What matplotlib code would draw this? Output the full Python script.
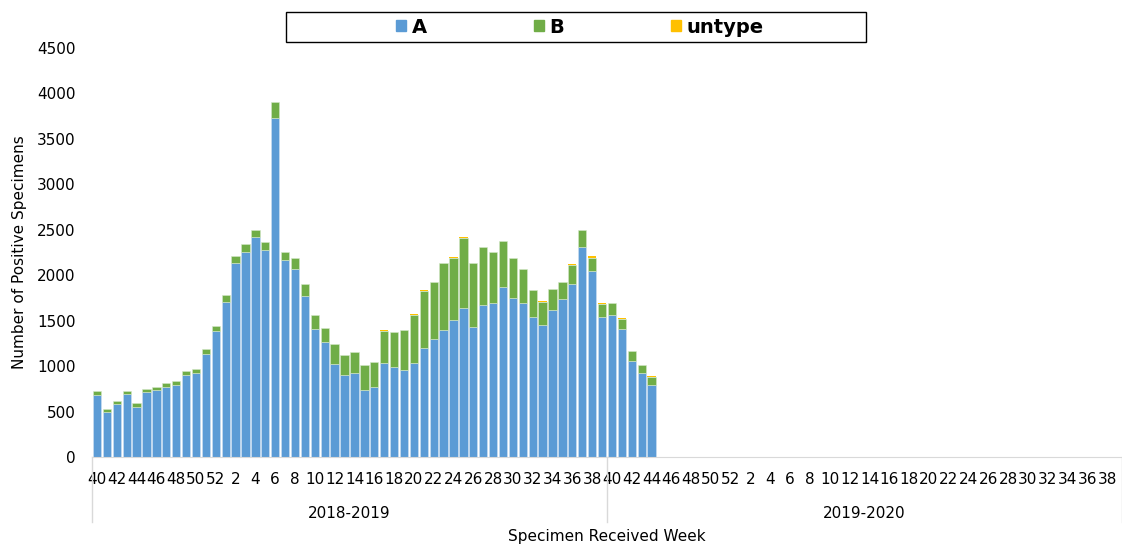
import numpy as np
import matplotlib
matplotlib.use("Agg")
import matplotlib.pyplot as plt
from matplotlib.patches import Rectangle, Patch

# weeks per season: 40..52 then 1..39
weeks = list(range(40, 53)) + list(range(1, 40))
seasons = ["2018-2019", "2019-2020"]

a_vals = [680, 495, 585, 695, 555, 710, 733, 766, 788, 905,
          920, 1132, 1385, 1700, 2135, 2256, 2421, 2282, 3733, 2172,
          2068, 1775, 1412, 1260, 1022, 903, 920, 742, 768, 1030,
          986, 953, 1033, 1201, 1293, 1392, 1502, 1637, 1425, 1670,
          1696, 1865, 1751, 1689, 1535, 1447, 1615, 1736, 1908, 2308,
          2044, 1535, 1557, 1403, 1055, 920, 788]
b_vals = [42, 36, 30, 27, 38, 37, 36, 44, 47, 44,
          47, 55, 58, 80, 81, 92, 77, 84, 172, 88,
          117, 126, 148, 161, 216, 218, 230, 266, 272, 356,
          384, 439, 527, 626, 627, 737, 688, 773, 707, 645,
          564, 509, 443, 374, 300, 259, 231, 184, 201, 194,
          147, 146, 139, 119, 106, 91, 97]
u_vals = [0, 0, 0, 0, 0, 0, 0, 0, 0, 0,
          0, 0, 0, 0, 0, 0, 0, 0, 0, 0,
          0, 0, 0, 0, 0, 0, 0, 0, 0, 10,
          0, 0, 8, 5, 0, 10, 15, 15, 0, 0,
          0, 0, 0, 10, 0, 8, 0, 10, 12, 0,
          25, 15, 0, 5, 0, 0, 5]

c_a, c_b, c_u = "#5B9BD5", "#70AD47", "#FFC000"

n_cat = len(weeks) * len(seasons)
a = np.array(a_vals)
b = np.array(b_vals)
u = np.array(u_vals)
x = np.arange(len(a))

fig = plt.figure(figsize=(11.22, 5.44), dpi=100)
ax = fig.add_axes([92 / 1122, 87 / 544, 1030 / 1122, 409 / 544])

w = 0.84
ax.bar(x, a, width=w, color=c_a, edgecolor="#CFE0F2", linewidth=0.4)
ax.bar(x, b, bottom=a, width=w, color=c_b, edgecolor="#D5E8CB", linewidth=0.4)
ax.bar(x, u, bottom=a + b, width=w, color=c_u, edgecolor="none", linewidth=0)

ax.set_xlim(-0.5, n_cat - 0.5)
ax.set_ylim(0, 4500)
ax.set_yticks(np.arange(0, 4501, 500))
ax.tick_params(axis="y", length=0, pad=12, labelsize=11)

labels = [str(wk) for wk in weeks] * len(seasons)
ticks = np.arange(0, n_cat, 2)
ax.set_xticks(ticks)
ax.set_xticklabels([labels[i] for i in ticks])
ax.tick_params(axis="x", length=0, pad=11, labelsize=11)

for s in ["top", "right", "left"]:
    ax.spines[s].set_visible(False)
ax.spines["bottom"].set_color("#D9D9D9")

trans = ax.get_xaxis_transform()
for k in range(len(seasons) + 1):
    xb = k * len(weeks) - 0.5
    ax.plot([xb, xb], [0, -0.16], transform=trans, color="#D9D9D9",
            lw=1, clip_on=False)
for k, name in enumerate(seasons):
    xc = k * len(weeks) + len(weeks) / 2 - 0.5
    ax.text(xc, -0.137, name, transform=trans, ha="center", va="center",
            fontsize=11)

fig.text(0.541, 0.013, "Specimen Received Week", ha="center", va="center",
         fontsize=11)
fig.text(0.017, (544 - 252) / 544, "Number of Positive Specimens",
         rotation=90, ha="center", va="center", fontsize=11)

# legend box
fig.patches.append(Rectangle((286 / 1122, (544 - 42) / 544), 580 / 1122,
                             30 / 544, transform=fig.transFigure,
                             fill=False, edgecolor="black", lw=1))
handles = [Patch(color=c_a), Patch(color=c_b), Patch(color=c_u)]
fig.legend(handles, ["A", "B", "untype"], ncol=3, loc="center",
           bbox_to_anchor=(580 / 1122, (544 - 27) / 544), frameon=False,
           prop={"weight": "bold", "size": 14}, handlelength=0.5,
           handleheight=0.5, handletextpad=0.3, columnspacing=5.5)

fig.savefig("out.png", dpi=100)
